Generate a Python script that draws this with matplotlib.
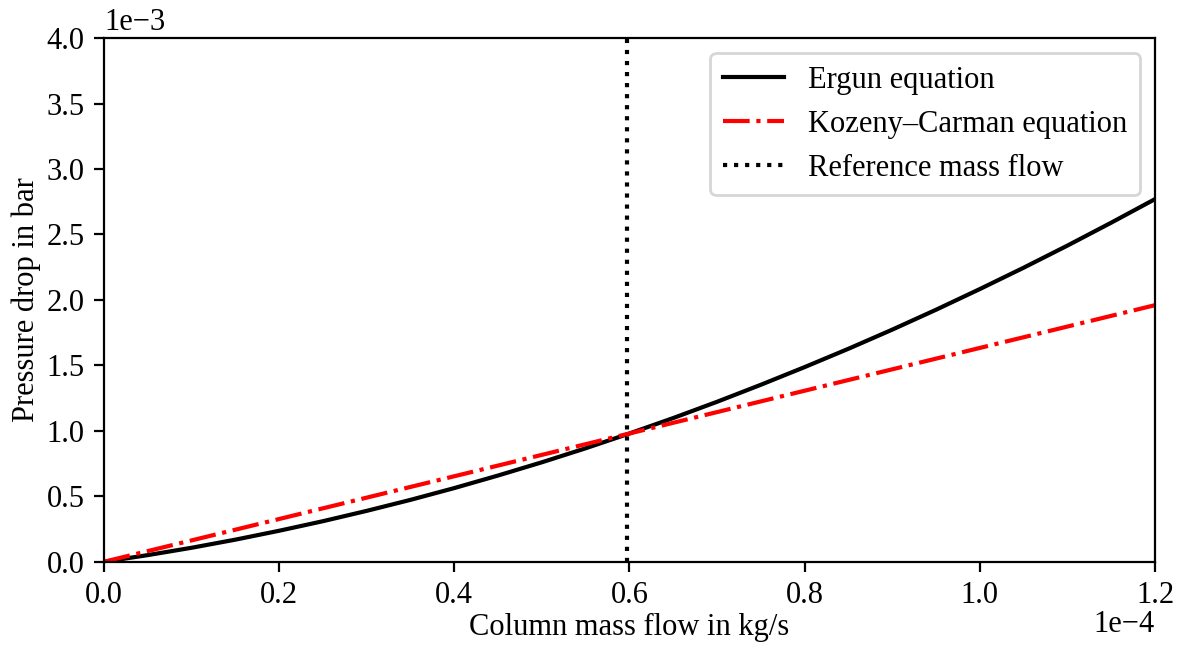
import matplotlib
matplotlib.use("Agg")
import matplotlib.pyplot as plt
from matplotlib.transforms import ScaledTranslation

plt.rcParams["font.family"] = ["Liberation Serif", "DejaVu Serif"]
plt.rcParams["font.size"] = 11

# column mass flow in kg/s
mass_flow = [0.0, 0.05e-4, 0.1e-4, 0.15e-4, 0.2e-4, 0.25e-4, 0.3e-4, 0.35e-4,
             0.4e-4, 0.45e-4, 0.5e-4, 0.55e-4, 0.6e-4, 0.65e-4, 0.7e-4, 0.75e-4,
             0.8e-4, 0.85e-4, 0.9e-4, 0.95e-4, 1.0e-4, 1.05e-4, 1.1e-4, 1.15e-4,
             1.2e-4]
# pressure drop in bar
dp_ergun = [0.0, 0.051e-3, 0.107e-3, 0.169e-3, 0.237e-3, 0.310e-3, 0.389e-3,
            0.473e-3, 0.563e-3, 0.659e-3, 0.760e-3, 0.867e-3, 0.980e-3,
            1.098e-3, 1.222e-3, 1.352e-3, 1.487e-3, 1.627e-3, 1.773e-3,
            1.925e-3, 2.083e-3, 2.246e-3, 2.415e-3, 2.590e-3, 2.770e-3]
kc_flow = [0.0, 0.6e-4, 1.2e-4]
dp_kozeny = [0.0, 0.980e-3, 1.960e-3]
ref_flow = 0.597e-4

fig, ax = plt.subplots(figsize=(5.905, 3.225), dpi=200)
fig.subplots_adjust(left=0.088, right=0.978, top=0.941, bottom=0.129)

ax.plot(mass_flow, dp_ergun, color="black", lw=1.5, label="Ergun equation")
ax.plot(kc_flow, dp_kozeny, color="red", ls="-.", lw=1.5, label="Kozeny–Carman equation")
ax.axvline(ref_flow, color="black", ls=":", lw=1.5, label="Reference mass flow")

ax.set_xlim(0, 1.2e-4)
ax.set_ylim(0, 4e-3)
ax.ticklabel_format(style="sci", axis="both", scilimits=(0, 0))
ax.set_xlabel("Column mass flow in kg/s", labelpad=1)
ax.set_ylabel("Pressure drop in bar", labelpad=2)
ax.legend(loc="upper right")

# lift the x offset text a bit so it sits like the original
off = ax.xaxis.get_offset_text()
off.set_transform(off.get_transform() + ScaledTranslation(0, 3 / 72, fig.dpi_scale_trans))

fig.savefig("out.png", dpi=200)
